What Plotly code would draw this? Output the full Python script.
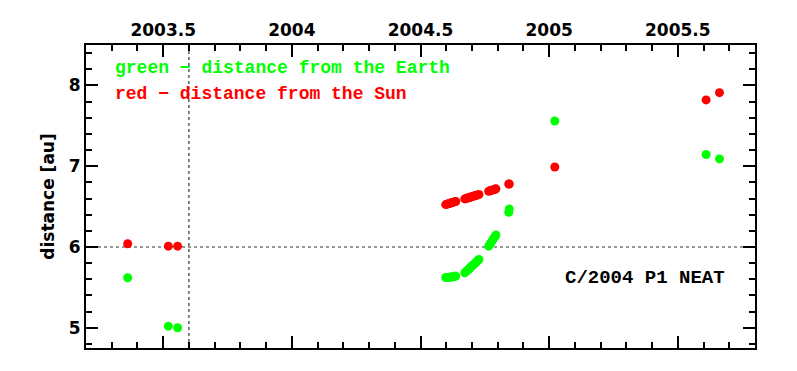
import plotly.graph_objects as go

# ---- data ----
t_obs = [2003.362, 2003.520, 2003.556,
         2004.598, 2004.603, 2004.608, 2004.613, 2004.618, 2004.623, 2004.628, 2004.633, 2004.637,
         2004.672, 2004.677, 2004.682, 2004.687, 2004.692, 2004.697, 2004.702, 2004.707, 2004.712,
         2004.717, 2004.722, 2004.727,
         2004.765, 2004.770, 2004.775, 2004.780, 2004.785, 2004.790, 2004.793,
         2004.843, 2004.845,
         2005.022,
         2005.610, 2005.662]

dist_earth = [5.62, 5.02, 5.00,
              5.622, 5.622, 5.624, 5.626, 5.628, 5.630, 5.632, 5.636, 5.640,
              5.680, 5.695, 5.710, 5.725, 5.740, 5.755, 5.770, 5.785, 5.800,
              5.815, 5.830, 5.845,
              6.010, 6.035, 6.060, 6.085, 6.110, 6.130, 6.150,
              6.430, 6.470,
              7.56,
              7.145, 7.09]

dist_sun = [6.04, 6.01, 6.01,
            6.525, 6.530, 6.535, 6.540, 6.545, 6.550, 6.555, 6.560, 6.563,
            6.595, 6.600, 6.605, 6.610, 6.615, 6.620, 6.625, 6.630, 6.635,
            6.640, 6.645, 6.650,
            6.690, 6.695, 6.700, 6.705, 6.710, 6.715, 6.720,
            6.780, 6.780,
            6.99,
            7.82, 7.91]

x_tickvals = [2003.5, 2004, 2004.5, 2005, 2005.5]
x_ticktext = ["2003.5", "2004", "2004.5", "2005", "2005.5"]
y_tickvals = [5, 6, 7, 8]
y_ticktext = ["5", "6", "7", "8"]

ref_year = 2003.6
ref_dist = 6.0

x_range = [2003.2, 2005.8]
y_range = [4.75, 8.5]

legend_lines = ["green \u2212 distance from the Earth", "red \u2212 distance from the Sun"]
comet_name = "C/2004 P1 NEAT"

GREEN = "#00ff00"
RED = "#ff0000"
LABEL_FONT = dict(family="DejaVu Sans", size=17, color="black", weight="bold")
MONO = "Liberation Mono"

fig = go.Figure()

# reference lines
fig.add_shape(type="line", xref="x", yref="paper", x0=ref_year, x1=ref_year, y0=0, y1=1,
              line=dict(color="#333333", width=1.2, dash="dot"), layer="below")
fig.add_shape(type="line", xref="paper", yref="y", x0=0, x1=1, y0=ref_dist, y1=ref_dist,
              line=dict(color="#333333", width=1.2, dash="dot"), layer="below")

fig.add_trace(go.Scatter(x=t_obs, y=dist_earth, mode="markers",
                         marker=dict(color=GREEN, size=9, line=dict(width=0)),
                         showlegend=False, hoverinfo="x+y"))
fig.add_trace(go.Scatter(x=t_obs, y=dist_sun, mode="markers",
                         marker=dict(color=RED, size=9, line=dict(width=0)),
                         showlegend=False, hoverinfo="x+y"))

fig.add_annotation(x=2003.303, y=8.21, xref="x", yref="y", text=legend_lines[0],
                   showarrow=False, xanchor="left", yanchor="middle",
                   font=dict(family=MONO, size=18, color=GREEN, weight="bold"))
fig.add_annotation(x=2003.303, y=7.89, xref="x", yref="y", text=legend_lines[1],
                   showarrow=False, xanchor="left", yanchor="middle",
                   font=dict(family=MONO, size=18, color=RED, weight="bold"))
fig.add_annotation(x=2005.693, y=5.62, xref="x", yref="y", text=comet_name,
                   showarrow=False, xanchor="right", yanchor="middle",
                   font=dict(family=MONO, size=19, color="black", weight="bold"))

fig.update_xaxes(range=x_range, side="top", tickvals=x_tickvals, ticktext=x_ticktext,
                 ticks="inside", ticklen=12, tickwidth=2, tickcolor="black",
                 showline=True, linewidth=2, linecolor="black", mirror="ticks",
                 showgrid=False, zeroline=False, tickfont=LABEL_FONT,
                 minor=dict(dtick=0.1, tick0=2003.0, ticks="inside", ticklen=6,
                            tickwidth=2, tickcolor="black", showgrid=False))
fig.update_yaxes(range=y_range, tickvals=y_tickvals, ticktext=y_ticktext,
                 ticks="inside", ticklen=12, tickwidth=2, tickcolor="black",
                 showline=True, linewidth=2, linecolor="black", mirror="ticks",
                 showgrid=False, zeroline=False, tickfont=LABEL_FONT,
                 title=dict(text="distance [au]", font=LABEL_FONT, standoff=10),
                 minor=dict(dtick=0.2, tick0=0, ticks="inside", ticklen=6,
                            tickwidth=2, tickcolor="black", showgrid=False))

# the page body has an 8px margin, so the figure is drawn 8px in from the window edge
fig.update_layout(width=781, height=355,
                  margin=dict(l=78, r=34, t=35, b=15, pad=0),
                  paper_bgcolor="white", plot_bgcolor="white",
                  showlegend=False)

fig.write_html("out.html")
